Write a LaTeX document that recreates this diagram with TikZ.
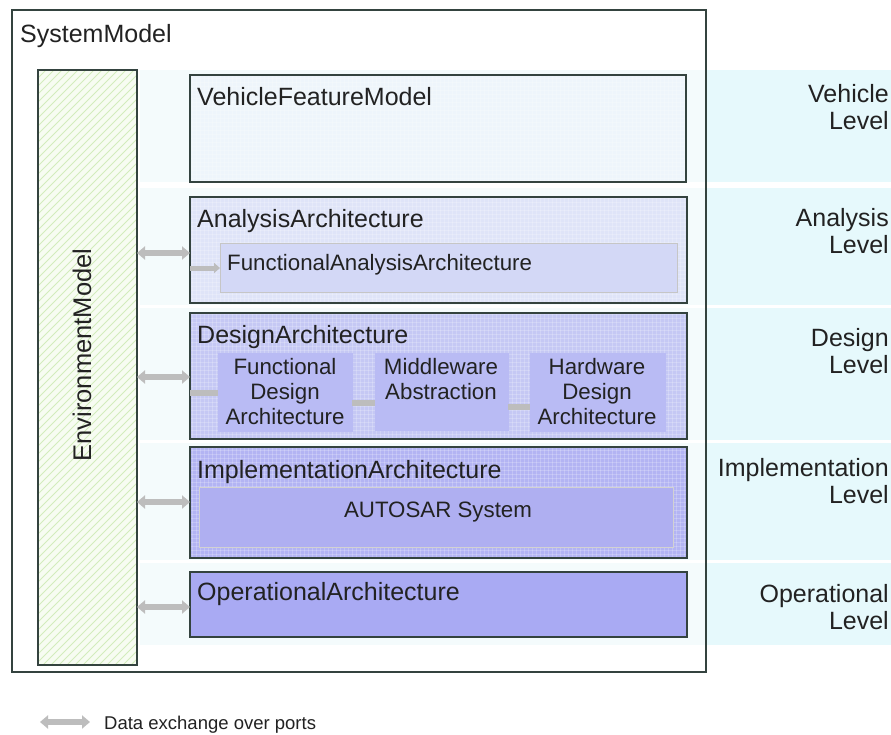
\documentclass[tikz,border=0pt]{standalone}
\usepackage{fontspec}
\setmainfont{Liberation Sans}
\usetikzlibrary{arrows.meta}

\definecolor{edge}{HTML}{34433F}
\definecolor{vfmfill}{HTML}{EEF5FB}
\definecolor{anafill}{HTML}{DFE4F8}
\definecolor{desfill}{HTML}{C5C8F4}
\definecolor{impfill}{HTML}{B3B4F3}
\definecolor{opfill}{HTML}{A9AAF3}
\definecolor{faafill}{HTML}{D3D8F6}
\definecolor{dinfill}{HTML}{B9BBF4}
\definecolor{autfill}{HTML}{AFAFF1}
\definecolor{band}{HTML}{E6F9FC}
\definecolor{bandin}{HTML}{F4FBFC}
\definecolor{envfill}{HTML}{F7FCF2}
\definecolor{hatch}{HTML}{D3ECBD}
\definecolor{portgray}{HTML}{BDBDBD}
\definecolor{ink}{HTML}{222222}

\begin{document}
\begin{tikzpicture}[x=1pt,y=-1pt,
  box/.style={draw=edge, line width=1.4pt, inner sep=0pt, outer sep=0pt, anchor=north west},
  inbox/.style={draw=#1, line width=0.8pt, inner sep=0pt, outer sep=0pt, anchor=north west},
  title/.style={font=\fontsize{25}{30}\selectfont, text=ink, anchor=base west, inner sep=0pt},
  small/.style={font=\fontsize{22.3}{25}\selectfont, text=ink, inner sep=0pt, align=center},
  level/.style={font=\fontsize{25}{27.5}\selectfont, text=ink, inner sep=0pt, align=right, anchor=north east},
  port/.style={draw=portgray, line width=6.5pt, {Triangle[length=8pt,width=13pt]}-{Triangle[length=8pt,width=13pt]}},
  link/.style={draw=portgray, line width=6pt},
  texture/.style={draw=white, line width=0.4pt, opacity=0.2}
]
\useasboundingbox (0,0) rectangle (891,734);
\fill[white] (0,0) rectangle (891,734);

% level bands: faint inside the system frame, stronger at the right
\foreach \ya/\yb in {70/182, 188/305, 308/440, 443/560, 563/645} {
  \fill[bandin] (140,\ya) rectangle (706,\yb);
  \fill[band] (706,\ya) rectangle (891,\yb);
}

% system model frame
\node[box, fill=none, minimum width=694pt, minimum height=662pt] (sys) at (12,10) {};
\node[title] (systxt) at (20,42) {SystemModel};

% environment model with diagonal hatching
\node[box, fill=envfill, minimum width=99pt, minimum height=595pt] (env) at (38,70) {};
\begin{scope}
  \clip (38,70) rectangle (137,665);
  \foreach \k in {0,8,...,720}
    \draw[hatch, line width=0.9pt] (38,70+\k) -- (148,70+\k-110);
\end{scope}
\draw[edge, line width=1.4pt] (38,70) rectangle (137,665);
\node[font=\fontsize{25.5}{30}\selectfont, text=ink, rotate=90, inner sep=0pt] (envtxt) at (82,355) {EnvironmentModel};

% architecture level boxes
\node[box, fill=vfmfill, minimum width=496pt, minimum height=107pt] (vfm) at (190,75) {};
\node[box, fill=anafill, minimum width=497pt, minimum height=106pt] (ana) at (190,197) {};
\node[box, fill=desfill, minimum width=497pt, minimum height=126pt] (des) at (190,313) {};
\node[box, fill=impfill, minimum width=497pt, minimum height=111pt] (imp) at (190,447) {};
\node[box, fill=opfill, minimum width=497pt, minimum height=65pt] (op) at (190,572) {};

% fine grid texture of the upper boxes
\begin{scope}
  \clip (191,76) rectangle (686,558);
  \foreach \gx in {192,196,...,686} \draw[texture] (\gx,76) -- (\gx,558);
  \foreach \gy in {78,82,...,558} \draw[texture] (191,\gy) -- (686,\gy);
\end{scope}
\foreach \b in {vfm,ana,des,imp}
  \draw[edge, line width=1.4pt] (\b.north west) rectangle (\b.south east);

% inner boxes
\node[inbox=gray!45, fill=faafill, minimum width=457pt, minimum height=49pt] (faa) at (220,243) {};
\node[inbox=dinfill, fill=dinfill, minimum width=134pt, minimum height=78pt] (fda) at (218,353) {};
\node[inbox=dinfill, fill=dinfill, minimum width=133pt, minimum height=77pt] (mwa) at (375,353) {};
\node[inbox=dinfill, fill=dinfill, minimum width=135pt, minimum height=78pt] (hda) at (530,353) {};
\node[inbox=gray!35, fill=autfill, minimum width=474pt, minimum height=60pt] (aut) at (199,487) {};

% texts
\node[title] (vfmtxt) at (197,105) {VehicleFeatureModel};
\node[title] (anatxt) at (197,227) {AnalysisArchitecture};
\node[small, anchor=base west] (faatxt) at (227,270) {FunctionalAnalysisArchitecture};
\node[title] (destxt) at (197,343) {DesignArchitecture};
\node[small, anchor=north] (fdatxt) at (285,358) {Functional\\Design\\Architecture};
\node[small, anchor=north] (mwatxt) at (441,358) {Middleware\\Abstraction};
\node[small, anchor=north] (hdatxt) at (597,358) {Hardware\\Design\\Architecture};
\node[title] (imptxt) at (197,478) {ImplementationArchitecture};
\node[small, anchor=base] (auttxt) at (438,517) {AUTOSAR System};
\node[title] (optxt) at (197,600) {OperationalArchitecture};

% level labels
\node[level] (lv1) at (889,84) {Vehicle\\Level};
\node[level] (lv2) at (889,208) {Analysis\\Level};
\node[level] (lv3) at (889,328) {Design\\Level};
\node[level] (lv4) at (889,458) {Implementation\\Level};
\node[level] (lv5) at (889,584) {Operational\\Level};

% data exchange between environment and architectures
\draw[port] (env.east |- 0,253) -- (ana.west |- 0,253);
\draw[port] (env.east |- 0,377) -- (des.west |- 0,377);
\draw[port] (env.east |- 0,502) -- (imp.west |- 0,502);
\draw[port] (env.east |- 0,607) -- (op.west |- 0,607);

% links inside the architectures
\draw[draw=portgray, line width=5pt, -{Triangle[length=6pt,width=10pt]}] (ana.west |- 0,268) -- (faa.west |- 0,268);
\draw[link] (des.west |- 0,393) -- (fda.west |- 0,393);
\draw[link] (fda.east |- 0,403) -- (mwa.west |- 0,403);
\draw[link] (mwa.east |- 0,407) -- (hda.west |- 0,407);

% legend
\coordinate (lgA) at (40,722);
\coordinate (lgB) at (90,722);
\draw[port, line width=5.5pt] (lgA) -- (lgB);
\node[font=\fontsize{18.5}{22}\selectfont, text=ink, anchor=base west, inner sep=0pt] (lgtxt) at (104,729) {Data exchange over ports};
\end{tikzpicture}
\end{document}
